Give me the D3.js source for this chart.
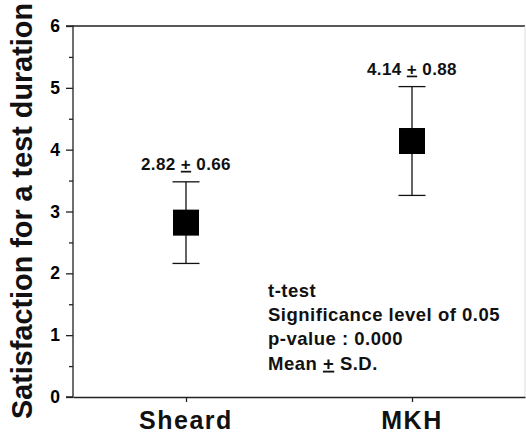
<!DOCTYPE html>
<html>
<head>
    <meta charset="UTF-8">
    <script src="https://d3js.org/d3.v7.min.js"></script>
    <style>
        body { margin: 0; background: #fff; }
        svg { display: block; font-family: "Liberation Sans", Arial, sans-serif; font-weight: bold; }
    </style>
</head>
<body>
    <svg id="chart"></svg>

    <script>
// DATA
    var groups = ["Sheard", "MKH"];
    var means = [2.82, 4.14];
    var sds = [0.66, 0.88];
    var yTicks = [0, 1, 2, 3, 4, 5, 6];
    var yMinorTicks = [0.5, 1.5, 2.5, 3.5, 4.5, 5.5];
    var notes = ["t-test", "Significance level of 0.05", "p-value : 0.000", "Mean \u00b1 S.D."];
    var yTitle = "Satisfaction for a test duration";

    var width = 526,
        height = 434,
        plotLeft = 73,
        plotRight = 525,
        plotTop = 26,
        plotBottom = 397;

    var svg = d3.select("#chart")
                .attr("width", width)
                .attr("height", height);

    var x = d3.scalePoint()
              .domain(groups)
              .range([plotLeft, plotRight])
              .padding(0.5);

    var y = d3.scaleLinear()
              .domain([0, 6])
              .range([plotBottom, plotTop]);

    // frame: top line and faint right edge
    svg.append("line")
        .attr("x1", plotLeft).attr("x2", plotRight)
        .attr("y1", plotTop).attr("y2", plotTop)
        .attr("stroke", "#222").attr("stroke-width", 1.3);
    svg.append("line")
        .attr("x1", plotRight).attr("x2", plotRight)
        .attr("y1", plotTop).attr("y2", plotBottom)
        .attr("stroke", "#ddd").attr("stroke-width", 1);

    // left axis
    var yAxis = svg.append("g")
        .attr("transform", `translate(${plotLeft},0)`)
        .call(d3.axisLeft(y).tickValues(yTicks).tickSize(7).tickPadding(6).tickFormat(d3.format("d")));
    svg.append("g")
        .attr("transform", `translate(${plotLeft},0)`)
        .call(d3.axisLeft(y).tickValues(yMinorTicks).tickSize(4).tickFormat(""))
        .select(".domain").remove();

    // bottom axis
    var xAxis = svg.append("g")
        .attr("transform", `translate(0,${plotBottom})`)
        .call(d3.axisBottom(x).tickSize(5).tickSizeOuter(0).tickFormat(""));

    svg.selectAll(".domain, .tick line")
        .attr("stroke", "#222")
        .attr("stroke-width", 1.3);
    yAxis.select(".domain").attr("d", `M-7,${plotTop}H0V${plotBottom}H-7`);

    yAxis.selectAll("text")
        .attr("font-size", 17.5)
        .attr("font-family", "Liberation Sans, Arial, sans-serif")
        .attr("font-weight", "bold")
        .attr("fill", "#000");

    // category labels
    svg.append("g")
        .selectAll("text")
        .data(groups)
        .enter().append("text")
        .attr("x", d => x(d))
        .attr("y", 428.5)
        .attr("text-anchor", "middle")
        .attr("font-size", 25)
        .attr("letter-spacing", 1.5)
        .attr("fill", "#111")
        .text(d => d);

    // y title
    svg.append("text")
        .attr("transform", `translate(32,${(plotTop + plotBottom) / 2 - 0.5}) rotate(-90)`)
        .attr("text-anchor", "middle")
        .attr("font-size", 28.8)
        .attr("fill", "#111")
        .text(yTitle);

    // error bars + mean markers
    var pts = groups.map((g, i) => ({ g: g, m: means[i], s: sds[i] }));

    var marks = svg.append("g").selectAll("g")
        .data(pts)
        .enter().append("g");

    marks.append("line")
        .attr("x1", d => x(d.g)).attr("x2", d => x(d.g))
        .attr("y1", d => y(d.m + d.s)).attr("y2", d => y(d.m - d.s))
        .attr("stroke", "#111").attr("stroke-width", 1.3);

    [1, -1].forEach(sign => {
        marks.append("line")
            .attr("x1", d => x(d.g) - 13.5).attr("x2", d => x(d.g) + 13.5)
            .attr("y1", d => y(d.m + sign * d.s)).attr("y2", d => y(d.m + sign * d.s))
            .attr("stroke", "#111").attr("stroke-width", 1.3);
    });

    marks.append("rect")
        .attr("x", d => x(d.g) - 13)
        .attr("y", d => y(d.m) - 13)
        .attr("width", 26)
        .attr("height", 26)
        .attr("fill", "#000");

    var lab = marks.append("text")
        .attr("x", d => x(d.g))
        .attr("y", d => y(d.m + d.s) - 12)
        .attr("text-anchor", "middle")
        .attr("font-size", 17)
        .attr("letter-spacing", 0.4)
        .attr("fill", "#111");
    lab.append("tspan").text(d => d.m.toFixed(2) + " ");
    lab.append("tspan").attr("text-decoration", "underline").text("+");
    lab.append("tspan").text(d => " " + d.s.toFixed(2));

    // statistics note
    var note = svg.append("g")
        .selectAll("text")
        .data(notes)
        .enter().append("text")
        .attr("x", 268)
        .attr("y", (d, i) => 296.5 + i * 24.4)
        .attr("font-size", 18.5)
        .attr("letter-spacing", 0.5)
        .attr("fill", "#111");
    note.each(function(d) {
        var t = d3.select(this);
        var parts = d.split("\u00b1");
        t.append("tspan").text(parts[0]);
        if (parts.length > 1) {
            t.append("tspan").attr("text-decoration", "underline").text("+");
            t.append("tspan").text(parts[1]);
        }
    });
    </script>
</body>
</html>
